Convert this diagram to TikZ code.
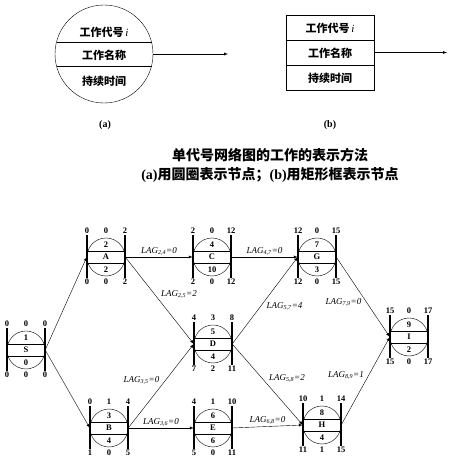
\documentclass[tikz,border=0pt]{standalone}
\usepackage{fontspec}
\setmainfont{Liberation Serif}
\newfontfamily\cjk{Noto Sans CJK SC}
\usetikzlibrary{calc,quotes,positioning}
\newcommand{\lag}[2]{\textit{LAG}\textsubscript{\textit{#1}}\textit{=#2}}

\begin{document}
\begin{tikzpicture}[x=1pt,y=1pt,>=latex,
  ev/.style={circle, draw, minimum size=38pt, inner sep=0pt},
  bar/.style={line width=1.4pt},
  num/.style={font=\bfseries\fontsize{8.5}{8.5}\selectfont, inner sep=0pt},
  cjkt/.style={font=\cjk\bfseries\fontsize{11}{11}\selectfont, inner sep=0pt},
  every edge quotes/.append style={font=\fontsize{9}{9}\selectfont, inner sep=1.5pt}]
\useasboundingbox (0,0) rectangle (460,463);

% (a) circle form
\node[circle, draw, minimum size=98pt, inner sep=0pt] (circA) at (104,409) {};
\draw ([shift={(-47.5,12)}]circA.center) -- ([shift={(47.5,12)}]circA.center);
\draw ([shift={(-47.5,-12)}]circA.center) -- ([shift={(47.5,-12)}]circA.center);
\node[cjkt] (aCode) at (104,431) {工作代号\,{\normalfont\itshape i}};
\node[cjkt] (aName) at (104,408) {工作名称};
\node[cjkt] (aDur) at (104,382) {持续时间};
\coordinate (outA) at (228,409);
\draw[->] (circA.east) -- (outA);
\node[font=\bfseries] (capA) at (105,338) {(a)};

% (b) box form
\node[draw, semithick, minimum width=88pt, minimum height=75pt, inner sep=0pt] (boxB) at (330,410.5) {};
\draw ([yshift=12.5]boxB.west) -- ([yshift=12.5]boxB.east);
\draw ([yshift=-12.5]boxB.west) -- ([yshift=-12.5]boxB.east);
\node[cjkt] (bCode) at (330,435) {工作代号\,{\normalfont\itshape i}};
\node[cjkt] (bName) at (330,410) {工作名称};
\node[cjkt] (bDur) at (330,385) {持续时间};
\coordinate (outB) at (447,410.5);
\draw[->] (boxB.east) -- (outB);
\node[font=\bfseries] (capB) at (330,338) {(b)};

% title
\node[font=\cjk\bfseries\fontsize{14}{14}\selectfont] (title1) at (270,308) {单代号网络图的工作的表示方法};
\node[font=\bfseries\fontsize{14}{14}\selectfont] (title2) at (270,288)
  {(a){\cjk 用圆圈表示节点；}(b){\cjk 用矩形框表示节点}};

% network nodes
\foreach \n/\x/\y/\idx/\dur/\ta/\tb/\tc/\ba/\bb/\bc in {
  S/26/113/1/0/0/0/0/0/0/0,
  A/106/206/2/2/0/0/2/0/0/2,
  B/109/35/3/4/0/1/4/1/0/5,
  C/212/206/4/10/2/0/12/2/0/12,
  D/213/119/5/4/4/3/8/7/2/11,
  E/213/35/6/6/4/1/10/5/0/11,
  G/317/206/7/3/12/0/15/12/0/15,
  H/322/38/8/4/10/1/14/11/1/15,
  I/409/126/9/2/15/0/17/15/0/17}
{
  \node[ev] (\n) at (\x,\y) {};
  \draw ([shift={(-18,6)}]\n.center) -- ([shift={(18,6)}]\n.center)
        ([shift={(-18,-6)}]\n.center) -- ([shift={(18,-6)}]\n.center);
  \draw[bar] ([shift={(-19,-21)}]\n.center) -- ([shift={(-19,22)}]\n.center)
             ([shift={(19,-21)}]\n.center) -- ([shift={(19,22)}]\n.center);
  \node[num] at ([shift={(0,12.5)}]\n.center) {\idx};
  \node[num] at (\n.center) {\n};
  \node[num] at ([shift={(0,-12.5)}]\n.center) {\dur};
  \node[num] at ([shift={(-19,26)}]\n.center) {\ta};
  \node[num] at ([shift={(0,26)}]\n.center) {\tb};
  \node[num] at ([shift={(19,26)}]\n.center) {\tc};
  \node[num] at ([shift={(-19,-25)}]\n.center) {\ba};
  \node[num] at ([shift={(0,-25)}]\n.center) {\bb};
  \node[num] at ([shift={(19,-25)}]\n.center) {\bc};
}

% connectors
\draw[->] (S.east) -- (A.west);
\draw[->] (S.east) -- (B.west);
\draw[->] (A.east) to ["\lag{2,4}{0}"] (C.west);
\draw[->] (A.east) to ["\lag{2,5}{2}"] (D.west);
\draw[->] (B.east) to ["\lag{3,5}{0}"] (D.west);
\draw[->] (B.east) to ["\lag{3,6}{0}"] (E.west);
\draw[->] (C.east) to ["\lag{4,7}{0}"] (G.west);
\draw[->] (D.east) to ["\lag{5,7}{4}"'] (G.west);
\draw[->] (D.east) to ["\lag{5,8}{2}"] (H.west);
\draw[->] (E.east) to ["\lag{6,8}{0}"] (H.west);
\draw[->] (G.east) to ["\lag{7,9}{0}"'] (I.west);
\draw[->] (H.east) to ["\lag{8,9}{1}"] (I.west);
\end{tikzpicture}
\end{document}
